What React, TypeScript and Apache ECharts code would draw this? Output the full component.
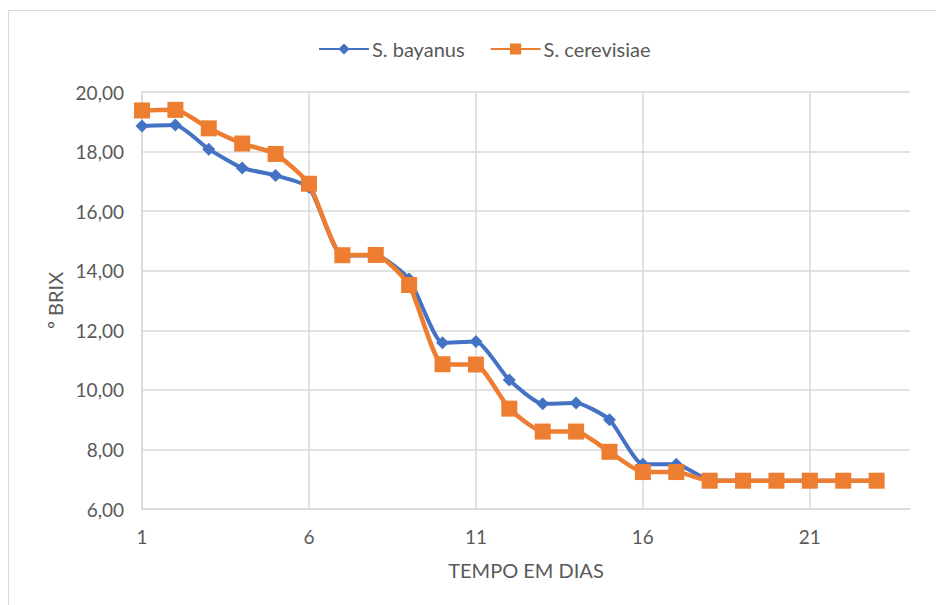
import React, { useEffect, useRef } from "react";
import * as echarts from "echarts";

const days = Array.from({ length: 24 }, (_, i) => String(i + 1));
const bayanus = [18.86, 18.89, 18.08, 17.45, 17.2, 16.8, 14.5, 14.52, 13.72, 11.58, 11.62, 10.33, 9.53, 9.56, 9.0, 7.5, 7.5, 6.97, 6.95, 6.95, 6.95, 6.95, 6.95];
const cerevisiae = [19.38, 19.4, 18.78, 18.27, 17.92, 16.92, 14.52, 14.53, 13.52, 10.86, 10.85, 9.37, 8.6, 8.6, 7.92, 7.24, 7.24, 6.95, 6.95, 6.95, 6.95, 6.95, 6.95];
const seriesNames = ["S. bayanus", "S. cerevisiae"];
const xTitle = "TEMPO EM DIAS";
const yTitle = "º BRIX";

const FONT = "Lato";
const TXT = "#595959";
const GRID = "#D9D9D9";

export default function App() {
  const ref = useRef<HTMLDivElement>(null);
  useEffect(() => {
    if (!ref.current) return;
    const chart = echarts.init(ref.current, null, { renderer: "svg" });
    chart.setOption({
      animation: false,
      backgroundColor: "#ffffff",
      textStyle: { fontFamily: FONT, color: TXT },
      graphic: [
        {
          type: "rect",
          shape: { x: 8.5, y: 10.5, width: 1000, height: 1000 },
          style: { fill: "none", stroke: GRID, lineWidth: 1 },
          silent: true,
        },
      ],
      legend: {
        left: 313,
        top: 34,
        itemWidth: 50,
        itemHeight: 14,
        itemGap: 25,
        textStyle: { fontFamily: FONT, fontSize: 20, color: TXT, padding: [0, 0, 0, -2] },
        data: seriesNames,
      },
      grid: { left: 142, right: 26, top: 92, bottom: 96, containLabel: false },
      xAxis: {
        type: "category",
        data: days,
        boundaryGap: false,
        name: xTitle,
        nameLocation: "middle",
        nameGap: 51,
        nameTextStyle: { fontFamily: FONT, fontSize: 20, color: TXT },
        axisLine: { show: true, lineStyle: { color: GRID, width: 1.5 } },
        axisTick: { show: false },
        axisLabel: { interval: 4, margin: 18, fontFamily: FONT, fontSize: 19, color: TXT },
        splitLine: { show: true, interval: 4, lineStyle: { color: GRID, width: 1.5 } },
      },
      yAxis: {
        type: "value",
        min: 6,
        max: 20,
        interval: 2,
        name: yTitle,
        nameLocation: "middle",
        nameRotate: 90,
        nameGap: 75,
        nameTextStyle: { fontFamily: FONT, fontSize: 20, color: TXT },
        axisLine: { show: true, lineStyle: { color: GRID, width: 1.5 } },
        axisTick: { show: false },
        axisLabel: {
          margin: 18,
          fontFamily: FONT,
          fontSize: 19,
          color: TXT,
          formatter: (v: number) => v.toFixed(2).replace(".", ","),
        },
        splitLine: { show: true, lineStyle: { color: GRID, width: 1.5 } },
      },
      series: [
        {
          name: seriesNames[0],
          type: "line",
          data: bayanus,
          smooth: 0.18,
          symbol: "diamond",
          symbolSize: 13,
          itemStyle: { color: "#4472C4" },
          lineStyle: { color: "#4472C4", width: 4 },
        },
        {
          name: seriesNames[1],
          type: "line",
          data: cerevisiae,
          smooth: 0.18,
          symbol: "rect",
          symbolSize: 16,
          itemStyle: { color: "#ED7D31" },
          lineStyle: { color: "#ED7D31", width: 4.5 },
        },
      ],
    });
    return () => chart.dispose();
  }, []);
  return (
    <div
      ref={ref}
      style={{ position: "fixed", left: 0, top: 0, width: 936, height: 605 }}
    />
  );
}
